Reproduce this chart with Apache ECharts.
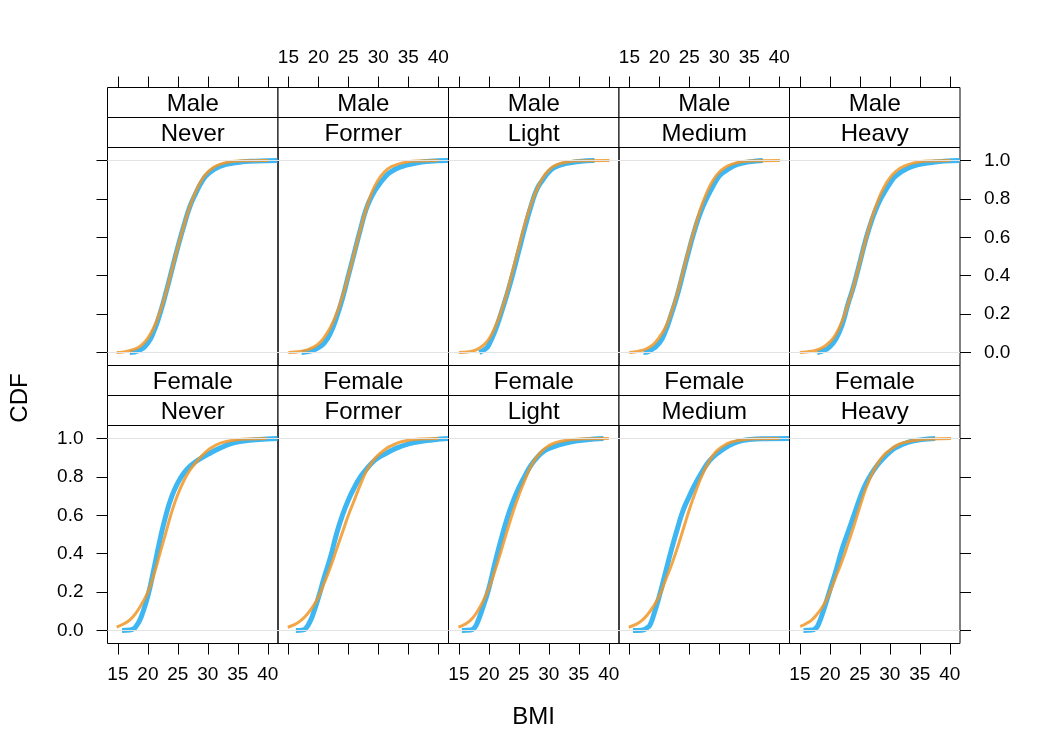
<!DOCTYPE html>
<html>
<head>
<meta charset="utf-8">
<title>BMI CDF</title>
<script src="https://cdn.jsdelivr.net/npm/echarts@6/dist/echarts.min.js"></script>
<style>
  html, body { margin: 0; padding: 0; background: #fff; }
  #chart { width: 1050px; height: 750px; }
</style>
</head>
<body>
<div id="chart"></div>
<script>
// strip labels
const sexes = ['Male', 'Female'];
const smoking = ['Never', 'Former', 'Light', 'Medium', 'Heavy'];
const xTicks = [15, 20, 25, 30, 35, 40];
const yTicks = [0, 0.2, 0.4, 0.6, 0.8, 1.0];

const maleNeverEcdf = [[17.0,0],[18.5,0.01],[20,0.05],[21,0.11],[22,0.2],[23,0.31],[24,0.43],[25,0.55],[26,0.66],[27,0.76],[28,0.83],[29,0.89],[30,0.93],[32,0.97],[35,0.99],[38,0.997],[41.6,1]];
const maleNeverFit = [[14.8,0],[16,0.003],[17,0.01],[18,0.02],[19,0.04],[20,0.075],[21,0.13],[22,0.21],[23,0.31],[24,0.43],[25,0.55],[26,0.66],[27,0.76],[28,0.84],[29,0.9],[30,0.94],[31,0.965],[32,0.98],[34,0.995],[37,0.999],[40.1,1]];

const maleFormerEcdf = [[17.2,0],[19,0.01],[20,0.025],[21,0.05],[22,0.1],[23,0.18],[24,0.28],[25,0.4],[26,0.52],[27,0.64],[28,0.75],[29,0.82],[30,0.87],[31,0.91],[32,0.94],[34,0.97],[36,0.985],[38,0.995],[41.6,1]];
const maleFormerFit = [[15,0],[17,0.005],[18,0.012],[19,0.025],[20,0.045],[21,0.08],[22,0.13],[23,0.2],[24,0.29],[25,0.4],[26,0.52],[27,0.64],[28,0.75],[29,0.84],[30,0.9],[31,0.94],[32,0.965],[34,0.988],[37,0.998],[40,1]];

const maleLightEcdf = [[18.4,0],[19.5,0.02],[20,0.04],[21,0.11],[22,0.2],[23,0.3],[24,0.41],[25,0.53],[26,0.65],[27,0.76],[28,0.85],[29,0.9],[30,0.94],[31,0.965],[33,0.985],[35,0.995],[37.6,1]];
const maleLightFit = [[15,0],[17,0.005],[18,0.015],[19,0.035],[20,0.07],[21,0.13],[22,0.21],[23,0.31],[24,0.43],[25,0.55],[26,0.67],[27,0.77],[28,0.85],[29,0.91],[30,0.95],[31,0.973],[33,0.993],[36,0.999],[40.1,1]];

const maleMediumEcdf = [[17.35,0],[18.5,0.01],[20,0.05],[21,0.11],[22,0.2],[23,0.3],[24,0.42],[25,0.54],[26,0.65],[27,0.74],[28,0.81],[29,0.87],[30,0.92],[31,0.945],[33,0.98],[35,0.993],[37.25,1]];
const maleMediumFit = [[15,0],[16,0.004],[17,0.01],[18,0.022],[19,0.042],[20,0.08],[21,0.13],[22,0.21],[23,0.31],[24,0.43],[25,0.55],[26,0.66],[27,0.76],[28,0.84],[29,0.9],[30,0.94],[31,0.965],[32,0.98],[34,0.995],[37,0.999],[40.1,1]];

const maleHeavyEcdf = [[17.9,0],[19,0.01],[20,0.03],[21,0.07],[22,0.14],[23,0.25],[24,0.35],[25,0.47],[26,0.59],[27,0.69],[28,0.77],[29,0.83],[30,0.88],[31,0.92],[33,0.96],[35,0.98],[37,0.99],[39,0.997],[41.6,1]];
const maleHeavyFit = [[15,0],[17,0.006],[18,0.014],[19,0.03],[20,0.055],[21,0.095],[22,0.16],[23,0.25],[24,0.35],[25,0.47],[26,0.59],[27,0.7],[28,0.79],[29,0.86],[30,0.91],[31,0.943],[32,0.965],[34,0.988],[37,0.998],[40.05,1]];

const femaleNeverEcdf = [[15.7,0],[17,0.002],[17.7,0.01],[18,0.02],[18.5,0.045],[19,0.08],[20,0.18],[21,0.32],[22,0.47],[23,0.6],[24,0.7],[25,0.77],[26,0.82],[27,0.855],[28,0.88],[29,0.9],[30,0.918],[32,0.95],[34,0.975],[36,0.987],[38,0.994],[41.6,1]];
const femaleNeverFit = [[14.8,0.018],[16,0.035],[17,0.055],[18,0.09],[19,0.14],[20,0.2],[21,0.29],[22,0.4],[23,0.51],[24,0.62],[25,0.71],[26,0.78],[27,0.835],[28,0.875],[29,0.91],[30,0.94],[31,0.96],[32,0.975],[34,0.99],[37,0.998],[39.8,1]];

const femaleFormerEcdf = [[16.25,0],[17.5,0.003],[18,0.015],[18.5,0.04],[19,0.075],[20,0.17],[21,0.28],[22,0.38],[23,0.5],[24,0.6],[25,0.68],[26,0.745],[27,0.8],[28,0.84],[29,0.875],[30,0.9],[31,0.918],[33,0.95],[35,0.972],[37,0.985],[39,0.993],[41.6,1]];
const femaleFormerFit = [[14.9,0.017],[16,0.03],[17,0.05],[18,0.08],[19,0.12],[20,0.174],[21,0.25],[22,0.33],[23,0.42],[24,0.51],[25,0.6],[26,0.68],[27,0.76],[28,0.83],[29,0.88],[30,0.915],[31,0.94],[32,0.96],[34,0.985],[37,0.998],[40,1]];

const femaleLightEcdf = [[15.5,0],[17,0.002],[17.5,0.01],[18,0.035],[19,0.12],[20,0.22],[21,0.35],[22,0.47],[23,0.58],[24,0.67],[25,0.745],[26,0.805],[27,0.86],[28,0.9],[29,0.93],[30,0.948],[32,0.97],[34,0.985],[36,0.993],[39.1,1]];
const femaleLightFit = [[14.93,0.017],[16,0.032],[17,0.055],[18,0.095],[19,0.15],[20,0.22],[21,0.31],[22,0.41],[23,0.515],[24,0.615],[25,0.705],[26,0.785],[27,0.855],[28,0.905],[29,0.94],[30,0.963],[31,0.977],[32,0.986],[34,0.995],[37,0.999],[40,1]];

const femaleMediumEcdf = [[15.6,0],[17,0.001],[17.5,0.005],[18,0.015],[18.4,0.026],[19,0.075],[20,0.18],[21,0.3],[22,0.42],[23,0.53],[24,0.63],[25,0.7],[26,0.765],[27,0.82],[28,0.87],[29,0.905],[30,0.93],[31,0.952],[33,0.983],[35,0.995],[38,0.999],[41.6,1]];
const femaleMediumFit = [[14.9,0.017],[16,0.03],[17,0.05],[18,0.082],[19,0.125],[20,0.18],[21,0.26],[22,0.34],[23,0.43],[24,0.53],[25,0.63],[26,0.72],[27,0.8],[28,0.865],[29,0.915],[30,0.947],[31,0.968],[32,0.982],[34,0.994],[37,0.999],[40,1]];

const femaleHeavyEcdf = [[15.6,0],[17,0.002],[17.5,0.008],[18,0.025],[19,0.11],[20,0.21],[21,0.31],[22,0.42],[23,0.51],[24,0.6],[25,0.69],[26,0.765],[27,0.82],[28,0.865],[29,0.9],[30,0.93],[31,0.953],[33,0.98],[35,0.993],[37.55,1]];
const femaleHeavyFit = [[15.05,0.021],[16,0.035],[17,0.055],[18,0.09],[19,0.135],[20,0.2],[21,0.28],[22,0.36],[23,0.45],[24,0.545],[25,0.645],[26,0.74],[27,0.815],[28,0.872],[29,0.913],[30,0.94],[31,0.962],[32,0.976],[34,0.99],[37,0.998],[40.2,1]];

const ecdfData = [
  [maleNeverEcdf, maleFormerEcdf, maleLightEcdf, maleMediumEcdf, maleHeavyEcdf],
  [femaleNeverEcdf, femaleFormerEcdf, femaleLightEcdf, femaleMediumEcdf, femaleHeavyEcdf]
];
const fitData = [
  [maleNeverFit, maleFormerFit, maleLightFit, maleMediumFit, maleHeavyFit],
  [femaleNeverFit, femaleFormerFit, femaleLightFit, femaleMediumFit, femaleHeavyFit]
];

// layout
const FONT = 'Liberation Sans, Arial, Helvetica, sans-serif';
const left0 = 107.5, colW = 170.5;
const stripH = 30, panelH = 218;
const rowTop = [87.5, 365.5];   // top of the strips of each row
const xMin = 13.27, xMax = 41.69;
const yMin = -0.068, yMax = 1.068;

const chart = echarts.init(document.getElementById('chart'));

const grids = [], xAxes = [], yAxes = [], series = [], graphics = [];

for (let r = 0; r < 2; r++) {
  for (let c = 0; c < 5; c++) {
    const i = r * 5 + c;
    const gx = left0 + c * colW;
    const gy = rowTop[r] + 2 * stripH;
    grids.push({
      left: gx, top: gy, width: colW, height: panelH,
      show: true, borderColor: '#000', borderWidth: 1,
      outerBoundsMode: 'none'
    });

    xAxes.push({
      type: 'value', gridIndex: i, min: xMin, max: xMax,
      position: r === 0 ? 'top' : 'bottom',
      offset: r === 0 ? 2 * stripH : 0,
      axisLine: { show: false, onZero: false },
      splitLine: { show: false },
      axisTick: { show: true, inside: false, length: 11, lineStyle: { color: '#000', width: 1 }, customValues: xTicks },
      axisLabel: {
        show: r === 0 ? (c % 2 === 1) : (c % 2 === 0),
        customValues: xTicks,
        color: '#000', fontSize: 19, fontFamily: FONT,
        margin: r === 0 ? 20 : 22
      }
    });

    // left axis ticks only on the first column, right axis ticks only on the last
    ['left', 'right'].forEach(function (side) {
      const outer = (side === 'left' && c === 0) || (side === 'right' && c === 4);
      const showLab = outer && ((r === 0 && side === 'right') || (r === 1 && side === 'left'));
      yAxes.push({
        type: 'value', gridIndex: i, min: yMin, max: yMax, position: side,
        axisLine: { show: false, onZero: false },
        splitLine: { show: false },
        axisTick: { show: outer, inside: false, length: 11, lineStyle: { color: '#000', width: 1 }, customValues: yTicks },
        axisLabel: {
          show: showLab, customValues: yTicks,
          formatter: function (v) { return v.toFixed(1); },
          color: '#000', fontSize: 19, fontFamily: FONT, margin: 24
        }
      });
    });

    // reference lines at 0 and 1
    series.push({
      type: 'line', xAxisIndex: i, yAxisIndex: 2 * i, data: [], z: 1, silent: true,
      markLine: {
        silent: true, symbol: 'none', label: { show: false },
        lineStyle: { color: '#e3e3e3', width: 1, type: 'solid' },
        data: [{ yAxis: 0 }, { yAxis: 1 }]
      }
    });
    series.push({
      type: 'line', xAxisIndex: i, yAxisIndex: 2 * i, data: ecdfData[r][c],
      showSymbol: false, smooth: 0.5, z: 3,
      lineStyle: { color: '#3db6f2', width: 5 }
    });
    series.push({
      type: 'line', xAxisIndex: i, yAxisIndex: 2 * i, data: fitData[r][c],
      showSymbol: false, smooth: 0.5, z: 4,
      lineStyle: { color: 'rgba(240,150,40,0.85)', width: 3 }
    });

    // strips
    [sexes[r], smoking[c]].forEach(function (lab, k) {
      graphics.push({
        type: 'rect', silent: true,
        shape: { x: gx, y: rowTop[r] + k * stripH, width: colW, height: stripH },
        style: { fill: '#fff', stroke: '#000', lineWidth: 1 }
      });
      graphics.push({
        type: 'text', silent: true,
        x: gx + colW / 2, y: rowTop[r] + k * stripH + stripH / 2 + 1.5,
        style: { text: lab, fill: '#000', font: '24px ' + FONT, textAlign: 'center', textVerticalAlign: 'middle' }
      });
    });
  }
}

graphics.push({
  type: 'text', silent: true, x: 533.5, y: 717,
  style: { text: 'BMI', fill: '#000', font: '24px ' + FONT, textAlign: 'center', textVerticalAlign: 'middle' }
});
graphics.push({
  type: 'text', silent: true, x: 20, y: 398, rotation: Math.PI / 2,
  style: { text: 'CDF', fill: '#000', font: '24px ' + FONT, textAlign: 'center', textVerticalAlign: 'middle' }
});

chart.setOption({
  backgroundColor: '#fff',
  animation: false,
  grid: grids,
  xAxis: xAxes,
  yAxis: yAxes,
  series: series,
  graphic: graphics
});
</script>
</body>
</html>
